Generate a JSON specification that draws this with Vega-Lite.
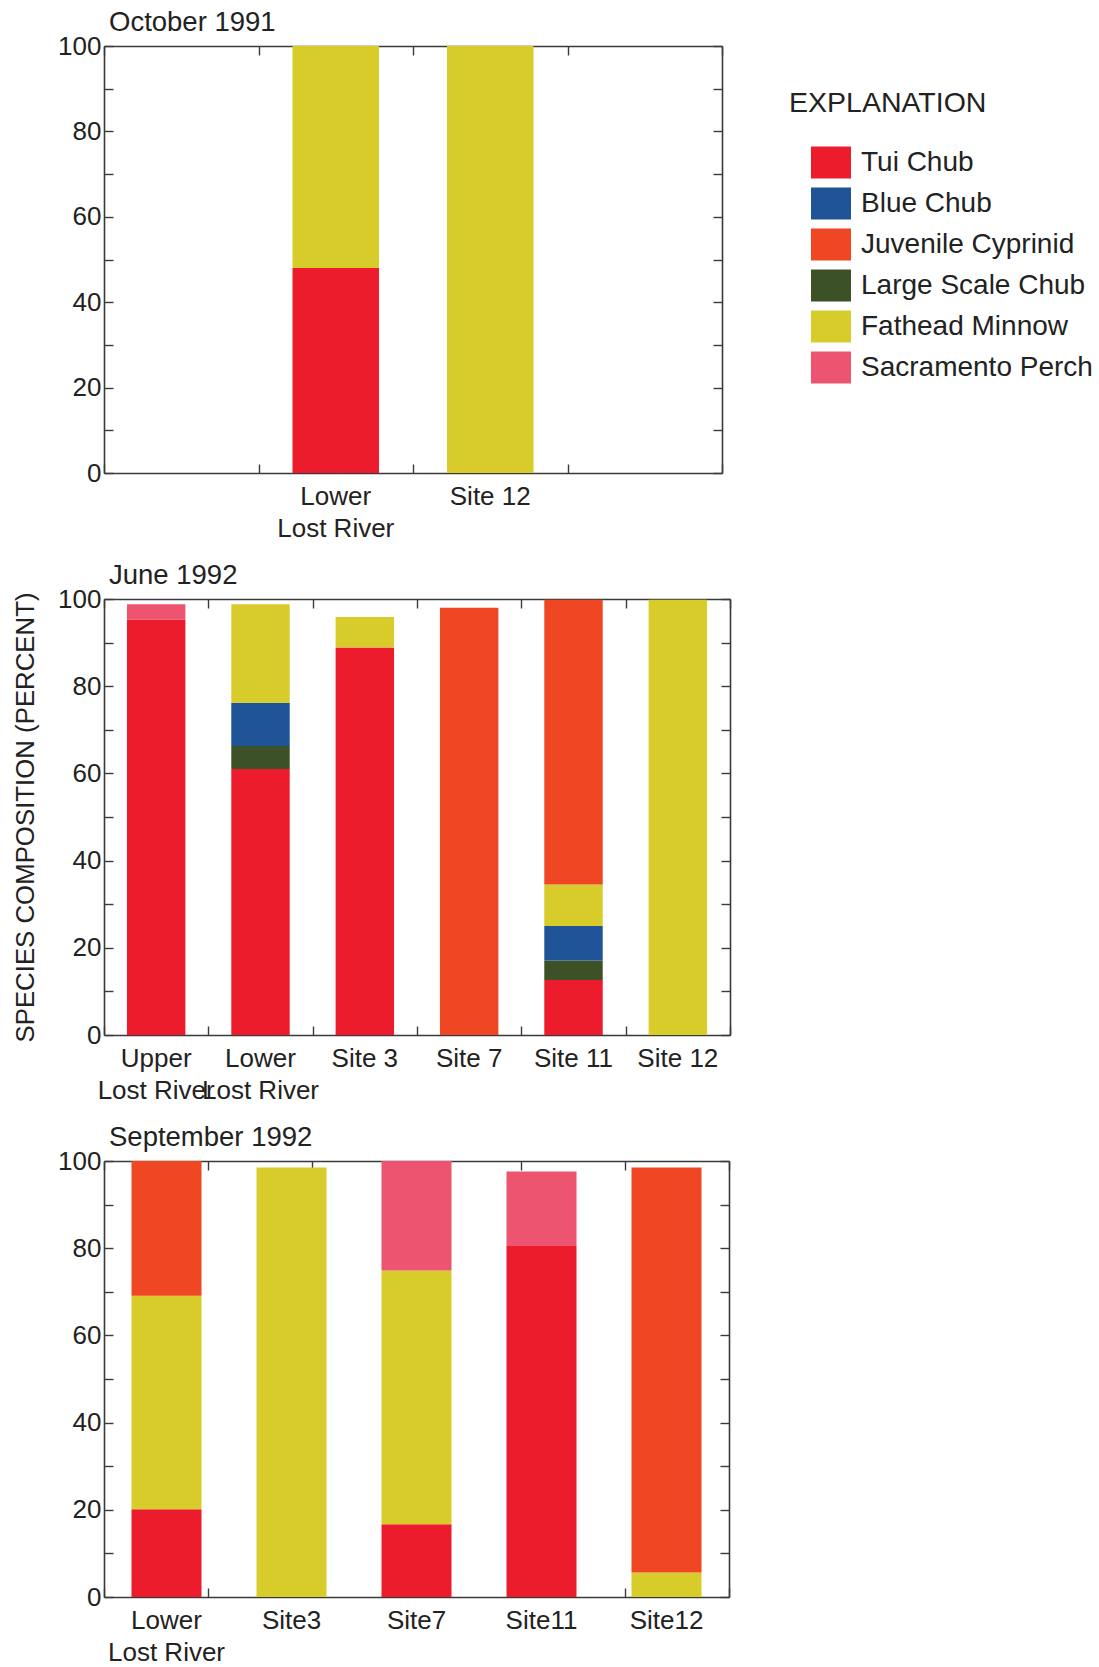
{
  "$schema": "https://vega.github.io/schema/vega-lite/v6.json",
  "background": "white",
  "padding": {"left": 12, "top": 8, "right": 5, "bottom": 5},
  "datasets": {
    "fish": [
      {"survey": "October 1991", "site": "Lower Lost River", "species": "Tui Chub", "pct": 48},
      {"survey": "October 1991", "site": "Lower Lost River", "species": "Fathead Minnow", "pct": 52},
      {"survey": "October 1991", "site": "Site 12", "species": "Fathead Minnow", "pct": 100},
      {"survey": "June 1992", "site": "Upper Lost River", "species": "Tui Chub", "pct": 95.3},
      {"survey": "June 1992", "site": "Upper Lost River", "species": "Sacramento Perch", "pct": 3.5},
      {"survey": "June 1992", "site": "Lower Lost River", "species": "Tui Chub", "pct": 61},
      {"survey": "June 1992", "site": "Lower Lost River", "species": "Large Scale Chub", "pct": 5.3},
      {"survey": "June 1992", "site": "Lower Lost River", "species": "Blue Chub", "pct": 9.9},
      {"survey": "June 1992", "site": "Lower Lost River", "species": "Fathead Minnow", "pct": 22.6},
      {"survey": "June 1992", "site": "Site 3", "species": "Tui Chub", "pct": 88.9},
      {"survey": "June 1992", "site": "Site 3", "species": "Fathead Minnow", "pct": 7},
      {"survey": "June 1992", "site": "Site 7", "species": "Juvenile Cyprinid", "pct": 98},
      {"survey": "June 1992", "site": "Site 11", "species": "Tui Chub", "pct": 12.6},
      {"survey": "June 1992", "site": "Site 11", "species": "Large Scale Chub", "pct": 4.5},
      {"survey": "June 1992", "site": "Site 11", "species": "Blue Chub", "pct": 7.9},
      {"survey": "June 1992", "site": "Site 11", "species": "Fathead Minnow", "pct": 9.5},
      {"survey": "June 1992", "site": "Site 11", "species": "Juvenile Cyprinid", "pct": 65.3},
      {"survey": "June 1992", "site": "Site 12", "species": "Fathead Minnow", "pct": 99.8},
      {"survey": "September 1992", "site": "Lower Lost River", "species": "Tui Chub", "pct": 20.1},
      {"survey": "September 1992", "site": "Lower Lost River", "species": "Fathead Minnow", "pct": 49},
      {"survey": "September 1992", "site": "Lower Lost River", "species": "Juvenile Cyprinid", "pct": 30.9},
      {"survey": "September 1992", "site": "Site3", "species": "Fathead Minnow", "pct": 98.5},
      {"survey": "September 1992", "site": "Site7", "species": "Tui Chub", "pct": 16.7},
      {"survey": "September 1992", "site": "Site7", "species": "Fathead Minnow", "pct": 58.2},
      {"survey": "September 1992", "site": "Site7", "species": "Sacramento Perch", "pct": 25.1},
      {"survey": "September 1992", "site": "Site11", "species": "Tui Chub", "pct": 80.5},
      {"survey": "September 1992", "site": "Site11", "species": "Sacramento Perch", "pct": 17.1},
      {"survey": "September 1992", "site": "Site12", "species": "Fathead Minnow", "pct": 5.6},
      {"survey": "September 1992", "site": "Site12", "species": "Juvenile Cyprinid", "pct": 92.9}
    ]
  },
  "config": {
    "view": {"stroke": null},
    "font": "Liberation Sans",
    "axis": {
      "labelFont": "Liberation Sans",
      "labelFontSize": 26,
      "labelColor": "#222222",
      "titleFont": "Liberation Sans",
      "titleFontSize": 25.8,
      "titleFontWeight": "normal",
      "titleColor": "#222222",
      "domainColor": "#3a3a3a",
      "domainWidth": 1.6,
      "tickColor": "#3a3a3a",
      "tickWidth": 1.4,
      "tickSize": 9,
      "grid": false
    },
    "axisX": {
      "labelPadding": 10,
      "labelAngle": 0,
      "labelLineHeight": 32,
      "labelBaseline": "top",
      "labelOverlap": false
    },
    "axisY": {"labelPadding": 3},
    "point": {"opacity": 0},
    "title": {
      "font": "Liberation Sans",
      "fontSize": 27.5,
      "fontWeight": "normal",
      "color": "#222222",
      "anchor": "start",
      "frame": "group",
      "offset": -3,
      "dx": 5
    }
  },
  "bounds": "flush",
  "spacing": 126,
  "vconcat": [
    {
      "title": "October 1991",
      "width": 618,
      "height": 427,
      "data": {"name": "fish"},
      "transform": [
        {"filter": "datum.survey == 'October 1991'"},
        {"calculate": "indexof(['Tui Chub','Large Scale Chub','Blue Chub','Fathead Minnow','Juvenile Cyprinid','Sacramento Perch'], datum.species)", "as": "stackRank"}
      ],
      "resolve": {"scale": {"x": "independent"}, "axis": {"x": "independent", "y": "independent"}},
      "layer": [
        {
          "mark": {"type": "bar", "width": {"band": 0.56}},
          "encoding": {
            "x": {
              "field": "site", "type": "nominal", "title": null,
              "scale": {"domain": [" ", "Lower Lost River", "Site 12", "  "], "paddingInner": 0, "paddingOuter": 0},
              "axis": {"orient": "bottom", "ticks": false, "labelExpr": "indexof(datum.value, ' Lost River') > 0 ? [substring(datum.value, 0, indexof(datum.value, ' Lost River')), 'Lost River'] : datum.label"}
            },
            "y": {
              "field": "pct", "type": "quantitative", "stack": "zero", "title": null,
              "scale": {"domain": [0, 100], "nice": false},
              "axis": {"orient": "left", "ticks": false, "values": [0, 20, 40, 60, 80, 100]}
            },
            "color": {
              "field": "species", "type": "nominal", "title": "EXPLANATION",
              "scale": {
                "domain": ["Tui Chub", "Blue Chub", "Juvenile Cyprinid", "Large Scale Chub", "Fathead Minnow", "Sacramento Perch"],
                "range": ["#EC1C2D", "#1F5497", "#EF4623", "#3D5127", "#D8CC2A", "#EC5470"]
              },
              "legend": {
                "orient": "none", "legendX": 685, "legendY": 43,
                "titleFont": "Liberation Sans", "titleFontSize": 28.5, "titleFontWeight": "normal", "titleColor": "#222222", "titlePadding": 25, "titleLimit": 400,
                "labelFont": "Liberation Sans", "labelFontSize": 28, "labelColor": "#222222", "labelOffset": 10, "labelLimit": 400,
                "symbolType": "M-1,-0.8H1V0.8H-1Z", "symbolSize": 1600, "symbolStrokeWidth": 0, "symbolOpacity": 1, "symbolOffset": 22,
                "rowPadding": 5
              }
            },
            "order": {"field": "stackRank", "type": "quantitative", "sort": "ascending"}
          }
        },
        {
          "mark": "point",
          "encoding": {
            "x": {
              "field": "site", "type": "ordinal", "title": null,
              "scale": {"type": "point", "domain": [" ", "Lower Lost River", "Site 12", "  ", "   "], "padding": 0},
              "axis": {"orient": "top", "offset": -427, "labels": false, "domain": false}
            },
            "y": {
              "field": "pct", "type": "quantitative", "title": null,
              "axis": {"orient": "right", "offset": -618, "values": [0, 10, 20, 30, 40, 50, 60, 70, 80, 90, 100], "labels": false, "domain": false}
            }
          }
        },
        {
          "mark": "point",
          "encoding": {
            "x": {
              "field": "site", "type": "ordinal", "title": null,
              "scale": {"type": "point", "domain": [" ", "Lower Lost River", "Site 12", "  ", "   "], "padding": 0},
              "axis": {"orient": "bottom", "offset": -427, "labels": false}
            },
            "y": {
              "field": "pct", "type": "quantitative", "title": null,
              "axis": {"orient": "left", "offset": -618, "values": [0, 10, 20, 30, 40, 50, 60, 70, 80, 90, 100], "labels": false}
            }
          }
        }
      ]
    },
    {
      "title": "June 1992",
      "width": 626,
      "height": 436,
      "data": {"name": "fish"},
      "transform": [
        {"filter": "datum.survey == 'June 1992'"},
        {"calculate": "indexof(['Tui Chub','Large Scale Chub','Blue Chub','Fathead Minnow','Juvenile Cyprinid','Sacramento Perch'], datum.species)", "as": "stackRank"}
      ],
      "resolve": {"scale": {"x": "independent"}, "axis": {"x": "independent", "y": "independent"}},
      "layer": [
        {
          "mark": {"type": "bar", "width": {"band": 0.56}},
          "encoding": {
            "x": {
              "field": "site", "type": "nominal", "title": null,
              "scale": {"domain": ["Upper Lost River", "Lower Lost River", "Site 3", "Site 7", "Site 11", "Site 12"], "paddingInner": 0, "paddingOuter": 0},
              "axis": {"orient": "bottom", "ticks": false, "labelExpr": "indexof(datum.value, ' Lost River') > 0 ? [substring(datum.value, 0, indexof(datum.value, ' Lost River')), 'Lost River'] : datum.label"}
            },
            "y": {
              "field": "pct", "type": "quantitative", "stack": "zero", "title": "SPECIES COMPOSITION (PERCENT)",
              "scale": {"domain": [0, 100], "nice": false},
              "axis": {"orient": "left", "ticks": false, "values": [0, 20, 40, 60, 80, 100], "titlePadding": 19}
            },
            "color": {
              "field": "species", "type": "nominal", "title": "EXPLANATION",
              "scale": {
                "domain": ["Tui Chub", "Blue Chub", "Juvenile Cyprinid", "Large Scale Chub", "Fathead Minnow", "Sacramento Perch"],
                "range": ["#EC1C2D", "#1F5497", "#EF4623", "#3D5127", "#D8CC2A", "#EC5470"]
              }
            },
            "order": {"field": "stackRank", "type": "quantitative", "sort": "ascending"}
          }
        },
        {
          "mark": "point",
          "encoding": {
            "x": {
              "field": "site", "type": "ordinal", "title": null,
              "scale": {"type": "point", "domain": ["Upper Lost River", "Lower Lost River", "Site 3", "Site 7", "Site 11", "Site 12", " "], "padding": 0},
              "axis": {"orient": "top", "offset": -436, "labels": false, "domain": false}
            },
            "y": {
              "field": "pct", "type": "quantitative", "title": null,
              "axis": {"orient": "right", "offset": -626, "values": [0, 10, 20, 30, 40, 50, 60, 70, 80, 90, 100], "labels": false, "domain": false}
            }
          }
        },
        {
          "mark": "point",
          "encoding": {
            "x": {
              "field": "site", "type": "ordinal", "title": null,
              "scale": {"type": "point", "domain": ["Upper Lost River", "Lower Lost River", "Site 3", "Site 7", "Site 11", "Site 12", " "], "padding": 0},
              "axis": {"orient": "bottom", "offset": -436, "labels": false}
            },
            "y": {
              "field": "pct", "type": "quantitative", "title": null,
              "axis": {"orient": "left", "offset": -626, "values": [0, 10, 20, 30, 40, 50, 60, 70, 80, 90, 100], "labels": false}
            }
          }
        }
      ]
    },
    {
      "title": "September 1992",
      "width": 625,
      "height": 436,
      "data": {"name": "fish"},
      "transform": [
        {"filter": "datum.survey == 'September 1992'"},
        {"calculate": "indexof(['Tui Chub','Large Scale Chub','Blue Chub','Fathead Minnow','Juvenile Cyprinid','Sacramento Perch'], datum.species)", "as": "stackRank"}
      ],
      "resolve": {"scale": {"x": "independent"}, "axis": {"x": "independent", "y": "independent"}},
      "layer": [
        {
          "mark": {"type": "bar", "width": {"band": 0.56}},
          "encoding": {
            "x": {
              "field": "site", "type": "nominal", "title": null,
              "scale": {"domain": ["Lower Lost River", "Site3", "Site7", "Site11", "Site12"], "paddingInner": 0, "paddingOuter": 0},
              "axis": {"orient": "bottom", "ticks": false, "labelExpr": "indexof(datum.value, ' Lost River') > 0 ? [substring(datum.value, 0, indexof(datum.value, ' Lost River')), 'Lost River'] : datum.label"}
            },
            "y": {
              "field": "pct", "type": "quantitative", "stack": "zero", "title": null,
              "scale": {"domain": [0, 100], "nice": false},
              "axis": {"orient": "left", "ticks": false, "values": [0, 20, 40, 60, 80, 100]}
            },
            "color": {
              "field": "species", "type": "nominal", "title": "EXPLANATION",
              "scale": {
                "domain": ["Tui Chub", "Blue Chub", "Juvenile Cyprinid", "Large Scale Chub", "Fathead Minnow", "Sacramento Perch"],
                "range": ["#EC1C2D", "#1F5497", "#EF4623", "#3D5127", "#D8CC2A", "#EC5470"]
              }
            },
            "order": {"field": "stackRank", "type": "quantitative", "sort": "ascending"}
          }
        },
        {
          "mark": "point",
          "encoding": {
            "x": {
              "field": "site", "type": "ordinal", "title": null,
              "scale": {"type": "point", "domain": ["Lower Lost River", "Site3", "Site7", "Site11", "Site12", " ", "  "], "padding": 0},
              "axis": {"orient": "top", "offset": -436, "labels": false, "domain": false}
            },
            "y": {
              "field": "pct", "type": "quantitative", "title": null,
              "axis": {"orient": "right", "offset": -625, "values": [0, 10, 20, 30, 40, 50, 60, 70, 80, 90, 100], "labels": false, "domain": false}
            }
          }
        },
        {
          "mark": "point",
          "encoding": {
            "x": {
              "field": "site", "type": "ordinal", "title": null,
              "scale": {"type": "point", "domain": ["Lower Lost River", "Site3", "Site7", "Site11", "Site12", " ", "  "], "padding": 0},
              "axis": {"orient": "bottom", "offset": -436, "labels": false}
            },
            "y": {
              "field": "pct", "type": "quantitative", "title": null,
              "axis": {"orient": "left", "offset": -625, "values": [0, 10, 20, 30, 40, 50, 60, 70, 80, 90, 100], "labels": false}
            }
          }
        }
      ]
    }
  ]
}
